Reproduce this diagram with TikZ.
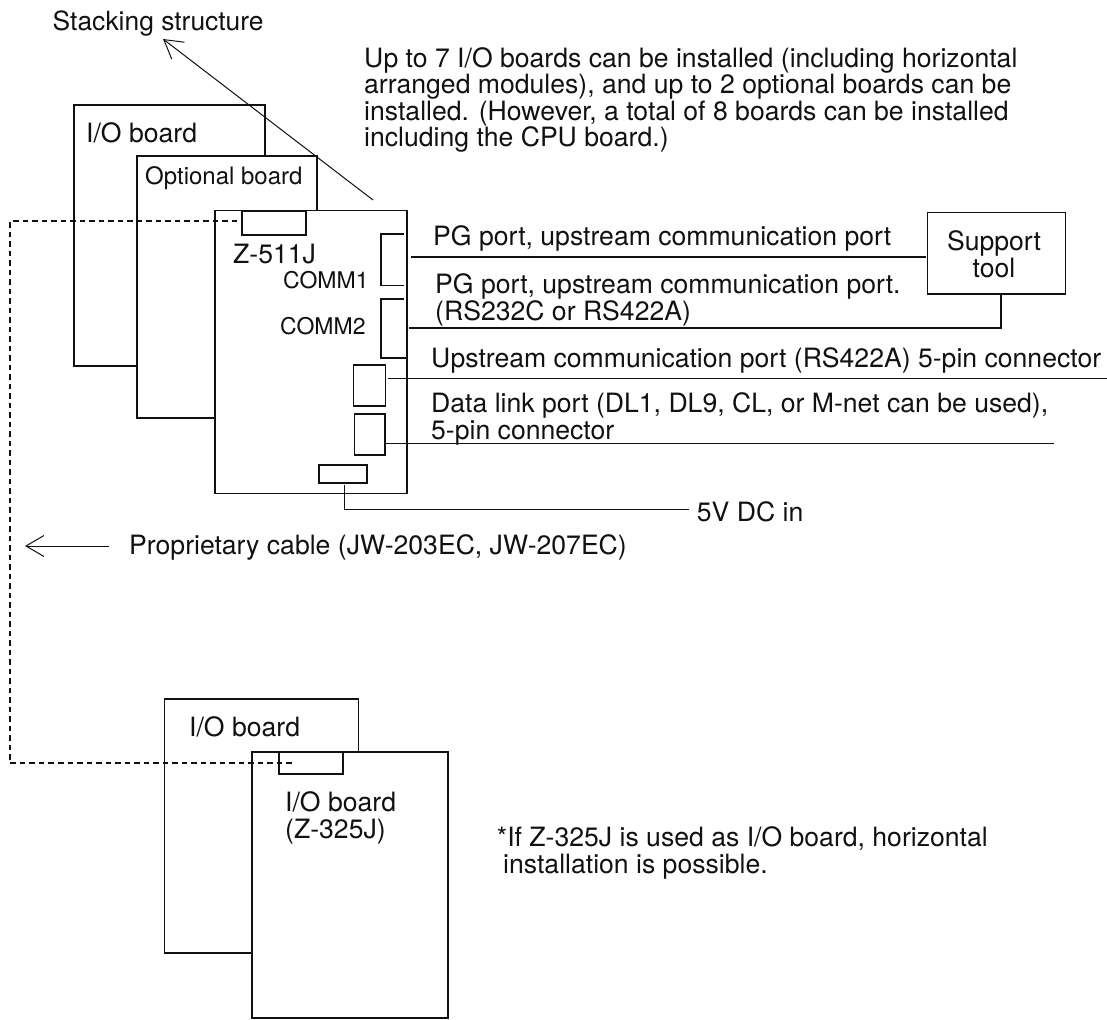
\documentclass[tikz,border=0pt]{standalone}
\usepackage{fontspec}
\setmainfont{TeX Gyre Heros}
\usetikzlibrary{arrows.meta,positioning}
\definecolor{ink}{HTML}{111111}
\tikzset{
  board/.style={draw=ink,fill=white,line width=1.2pt,anchor=north west,inner sep=0pt,outer sep=0pt},
  port/.style={draw=ink,line width=1.2pt,anchor=north west,inner sep=0pt,outer sep=0pt},
  label/.style={anchor=base west,inner sep=0pt,align=left,text=ink,font=\fontsize{26.6}{26.6}\selectfont},
  smalllabel/.style={label,font=\fontsize{24}{24}\selectfont},
  commlabel/.style={label,font=\fontsize{23}{23}\selectfont},
  wire/.style={draw=ink,line width=1.2pt},
  thinflow/.style={draw=ink,line width=1pt,-{Straight Barb[length=18pt,width=21pt,line width=1pt]}},
  cable/.style={draw=ink,line width=2.5pt,dash pattern=on 5.5pt off 4pt}
}
\begin{document}
\begin{tikzpicture}[x=1pt,y=-1pt]
    \useasboundingbox (0,0) rectangle (1107,1019);
    \node[board,minimum width=191pt,minimum height=261pt] (ioback) at (74,105) {};
    \node[board,minimum width=180pt,minimum height=262pt] (optboard) at (137,156) {};
    \node[board,minimum width=192pt,minimum height=283pt] (cpu) at (215,210.5) {};
    \node[port,minimum width=64pt,minimum height=24pt] (zconn) at (242,211) {};
    \node[port,minimum width=32pt,minimum height=41pt] (portc) at (353.5,365) {};
    \node[port,minimum width=30.5pt,minimum height=41pt] (portd) at (354.5,414) {};
    \node[port,minimum width=48pt,minimum height=18pt] (powerport) at (319,465) {};
    \draw[wire] (404,234) -- (381,234) -- (381,285.5) -- (404,285.5);
    \draw[wire] (404,299) -- (381,299) -- (381,358) -- (407,358);
    \node[board,minimum width=137.5pt,minimum height=81.7pt] (tool) at (927.7,212.3) {};
    \node[board,minimum width=194pt,minimum height=254pt] (iorear) at (164.5,699) {};
    \node[board,minimum width=196pt,minimum height=266pt] (iofront) at (252,752) {};
    \node[port,minimum width=64pt,minimum height=22pt] (hconn) at (279,752) {};
    \node[label,font=\fontsize{26.4}{26.4}\selectfont] (stacktext) at (52.5,30.5) {Stacking structure};
    \node[label] (notetext) at (364,147) {Up to 7 I/O boards can be installed (including horizontal\\arranged modules), and up to 2 optional boards can be\\installed. (However, a total of 8 boards can be installed\\including the CPU board.)};
    \node[label] (iolabel) at (86,143) {I/O board};
    \node[smalllabel] (optlabel) at (145,184) {Optional board};
    \node[label] (zlabel) at (233,263) {Z-511J};
    \node[commlabel] (commone) at (283,288) {COMM1};
    \node[commlabel] (commtwo) at (280,334) {COMM2};
    \node[label] (pgonetext) at (433,245) {PG port, upstream communication port};
    \node[label] (pgtwotext) at (435,320) {PG port, upstream communication port.\\(RS232C or RS422A)};
    \node[label] (upstext) at (431,367) {Upstream communication port (RS422A) 5-pin connector};
    \node[label] (linktext) at (431,439) {Data link port (DL1, DL9, CL, or M-net can be used),\\5-pin connector};
    \node[label,align=center,anchor=base] (tooltext) at (994,277) {Support\\tool};
    \node[label] (powertext) at (696.7,521.7) {5V DC in};
    \node[label] (cabletext) at (129,554) {Proprietary cable (JW-203EC, JW-207EC)};
    \node[label] (rearlabel) at (189,736) {I/O board};
    \node[label] (frontlabel) at (285,838) {I/O board\\(Z-325J)};
    \node[label] (hnote) at (496.7,873) {*If Z-325J is used as I/O board, horizontal\\\hspace*{6.3pt}installation is possible.};
    \coordinate (pgone) at (411,257);
    \coordinate (pgonend) at (925.7,257);
    \coordinate (pgtwo) at (409,328);
    \coordinate (toolfoot) at (1001,294);
    \coordinate (upsstart) at (388,378.7);
    \coordinate (upsend) at (1107,378.7);
    \coordinate (linkstart) at (385,443.7);
    \coordinate (linkend) at (1054,443.7);
    \coordinate (powerstart) at (344.7,485);
    \coordinate (powerend) at (689.3,509.5);
    \coordinate (stackstart) at (373,200);
    \coordinate (stackend) at (163,39);
    \coordinate (cableend) at (25,546);
    \coordinate (cablestart) at (109,546);
    \coordinate (cpuplug) at (237,221);
    \coordinate (ioplug) at (293,763);
    \coordinate (bend) at (10,221);
    \draw[wire] (pgone) -- (pgonend);
    \draw[wire] (pgtwo) -| (toolfoot);
    \draw[wire] (upsstart) -- (upsend);
    \draw[wire] (linkstart) -- (linkend);
    \draw[wire] (powerstart) |- (powerend);
    \draw[thinflow] (stackstart) -- (stackend);
    \draw[thinflow] (cablestart) -- (cableend);
    \draw[cable] (cpuplug) -- (bend) |- (ioplug);
  \end{tikzpicture}
\end{document}
